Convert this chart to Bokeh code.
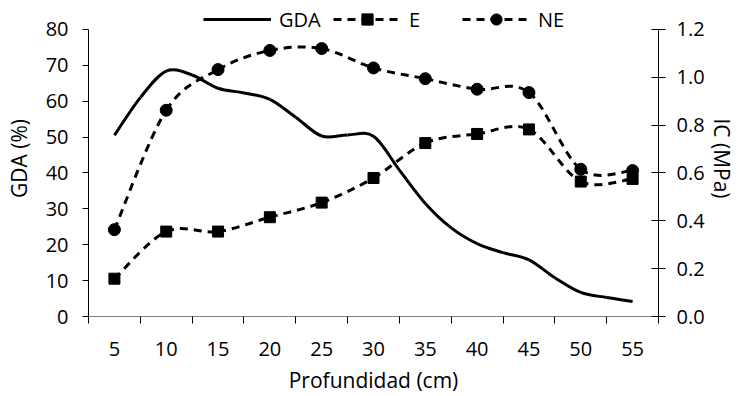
import numpy as np
from bokeh.plotting import figure
from bokeh.models import (Range1d, LinearAxis, FixedTicker, PrintfTickFormatter,
                          Legend, LegendItem, ColumnDataSource)
from bokeh.embed import file_html
from bokeh.resources import INLINE

# ---- data ----
depth = [5, 10, 15, 20, 25, 30, 35, 40, 45, 50, 55]
depth_labels = ["5", "10", "15", "20", "25", "30", "35", "40", "45", "50", "55"]
gda_depth = [5, 7.5, 10, 12.5, 15, 17.5, 20, 22.5, 25, 27.5, 30, 32.5, 35,
             37.5, 40, 42.5, 45, 47.5, 50, 52.5, 55]
gda = [50.5, 61.0, 68.4, 67.3, 63.6, 62.3, 60.5, 55.5, 50.3, 50.6, 50.2, 40.8,
       31.5, 24.7, 20.3, 17.8, 15.8, 10.8, 6.7, 5.3, 4.2]
ic_e = [0.158, 0.355, 0.355, 0.415, 0.476, 0.579, 0.725, 0.763, 0.782, 0.564, 0.575]
ic_ne = [0.363, 0.862, 1.032, 1.112, 1.12, 1.039, 0.994, 0.95, 0.936, 0.615, 0.61]
gda_ticks = [0, 10, 20, 30, 40, 50, 60, 70, 80]
ic_ticks = [0.0, 0.2, 0.4, 0.6, 0.8, 1.0, 1.2]

FONT = "Open Sans"
FS_TICK = "20px"
FS_TITLE = "21px"

# layout (pixels)
W, H = 738, 396
BORDER_BOTTOM = 79
AXIS_TOP_PX = 29          # where the top of the value axes sits
FRAME_H = H - BORDER_BOTTOM
STRETCH = FRAME_H / (FRAME_H - AXIS_TOP_PX)


def smooth_segments(xs, ys):
    """Bezier control points for an Excel-like smoothed line through the points."""
    x = np.asarray(xs, float)
    y = np.asarray(ys, float)
    n = len(x)
    xp = np.concatenate([[x[0]], x, [x[-1]]])
    yp = np.concatenate([[y[0]], y, [y[-1]]])
    x0, y0 = x[:-1], y[:-1]
    x1, y1 = x[1:], y[1:]
    cx0 = xp[1:n] + (xp[2:n + 1] - xp[0:n - 1]) / 6.0
    cy0 = yp[1:n] + (yp[2:n + 1] - yp[0:n - 1]) / 6.0
    cx1 = xp[2:n + 1] - (xp[3:n + 2] - xp[1:n]) / 6.0
    cy1 = yp[2:n + 1] - (yp[3:n + 2] - yp[1:n]) / 6.0
    return dict(x0=x0, y0=y0, x1=x1, y1=y1, cx0=cx0, cy0=cy0, cx1=cx1, cy1=cy1)


gmax = gda_ticks[-1]
imax = ic_ticks[-1]
p = figure(width=W, height=H, output_backend="svg", toolbar_location=None,
           x_range=Range1d(2.5, 57.5), y_range=Range1d(0, gmax * STRETCH),
           min_border_left=88, min_border_right=78, min_border_top=0,
           min_border_bottom=BORDER_BOTTOM, x_axis_location=None,
           y_axis_location=None)
p.extra_y_ranges = {"ic": Range1d(0, imax * STRETCH)}
p.outline_line_color = None
p.xgrid.visible = False
p.ygrid.visible = False
p.background_fill_color = "white"
p.border_fill_color = "white"

# axes
ax_left = LinearAxis(ticker=FixedTicker(ticks=gda_ticks), axis_label="GDA (%)",
                     bounds=(0, gmax))
ax_left.major_tick_in = 0
ax_left.major_tick_out = 6
ax_left.minor_tick_line_color = None
ax_left.major_label_standoff = 14
ax_left.axis_label_standoff = 10
p.add_layout(ax_left, "left")

ax_right = LinearAxis(y_range_name="ic", ticker=FixedTicker(ticks=ic_ticks),
                      formatter=PrintfTickFormatter(format="%.1f"),
                      axis_label="IC (MPa)", bounds=(0, imax))
ax_right.major_tick_in = 7
ax_right.major_tick_out = 7
ax_right.minor_tick_line_color = None
ax_right.major_label_standoff = 11
ax_right.axis_label_standoff = 0
p.add_layout(ax_right, "right")

bounds = [d - 2.5 for d in depth] + [depth[-1] + 2.5]
ax_bot = LinearAxis(ticker=FixedTicker(ticks=depth, minor_ticks=bounds),
                    axis_label="Profundidad (cm)")
ax_bot.major_label_overrides = {d: s for d, s in zip(depth, depth_labels)}
ax_bot.major_tick_in = 0
ax_bot.major_tick_out = 0
ax_bot.minor_tick_in = 0
ax_bot.minor_tick_out = 7
ax_bot.minor_tick_line_color = "black"
ax_bot.axis_line_color = "#808080"
ax_bot.major_label_standoff = 18
ax_bot.axis_label_standoff = 7
p.add_layout(ax_bot, "below")

for ax in (ax_left, ax_right, ax_bot):
    ax.major_label_text_font = FONT
    ax.major_label_text_font_size = FS_TICK
    ax.major_label_text_color = "black"
    ax.axis_label_text_font = FONT
    ax.axis_label_text_font_size = FS_TITLE
    ax.axis_label_text_font_style = "normal"
    ax.axis_label_text_color = "black"
    ax.major_tick_line_color = "black"
for ax in (ax_left, ax_right):
    ax.axis_line_color = "black"

# series
DASH = "8 6"
src_gda = ColumnDataSource(smooth_segments(gda_depth, gda))
p.bezier(x0="x0", y0="y0", x1="x1", y1="y1", cx0="cx0", cy0="cy0", cx1="cx1",
         cy1="cy1", source=src_gda, line_color="black", line_width=3)

src_e = ColumnDataSource(smooth_segments(depth, ic_e))
p.bezier(x0="x0", y0="y0", x1="x1", y1="y1", cx0="cx0", cy0="cy0", cx1="cx1",
         cy1="cy1", source=src_e, line_color="black", line_width=3,
         line_dash=DASH, y_range_name="ic")
src_ne = ColumnDataSource(smooth_segments(depth, ic_ne))
p.bezier(x0="x0", y0="y0", x1="x1", y1="y1", cx0="cx0", cy0="cy0", cx1="cx1",
         cy1="cy1", source=src_ne, line_color="black", line_width=3,
         line_dash=DASH, y_range_name="ic")

sq = p.scatter(depth, ic_e, marker="square", size=11, color="black",
               y_range_name="ic")
ci = p.scatter(depth, ic_ne, marker="circle", size=12, color="black",
               y_range_name="ic")

# legend proxies
nan = [np.nan]
lg_gda = p.line(nan, nan, line_color="black", line_width=3)
lg_e = p.line(nan, nan, line_color="black", line_width=3, line_dash=DASH)
lg_ne = p.line(nan, nan, line_color="black", line_width=3, line_dash=DASH)


def make_legend(label, renderers, x):
    lg = Legend(items=[LegendItem(label=label, renderers=renderers)],
                location=(x, FRAME_H - 34), orientation="horizontal",
                padding=0, margin=0, spacing=0,
                glyph_width=68, glyph_height=28, label_standoff=8,
                label_height=20,
                label_text_font=FONT, label_text_font_size=FS_TICK,
                label_text_color="black", border_line_color=None,
                background_fill_alpha=0)
    p.add_layout(lg, "center")


make_legend("GDA", [lg_gda], 115)
make_legend("E", [lg_e, sq], 245)
make_legend("NE", [lg_ne, ci], 374)

open("out.html", "w").write(file_html(p, INLINE))
